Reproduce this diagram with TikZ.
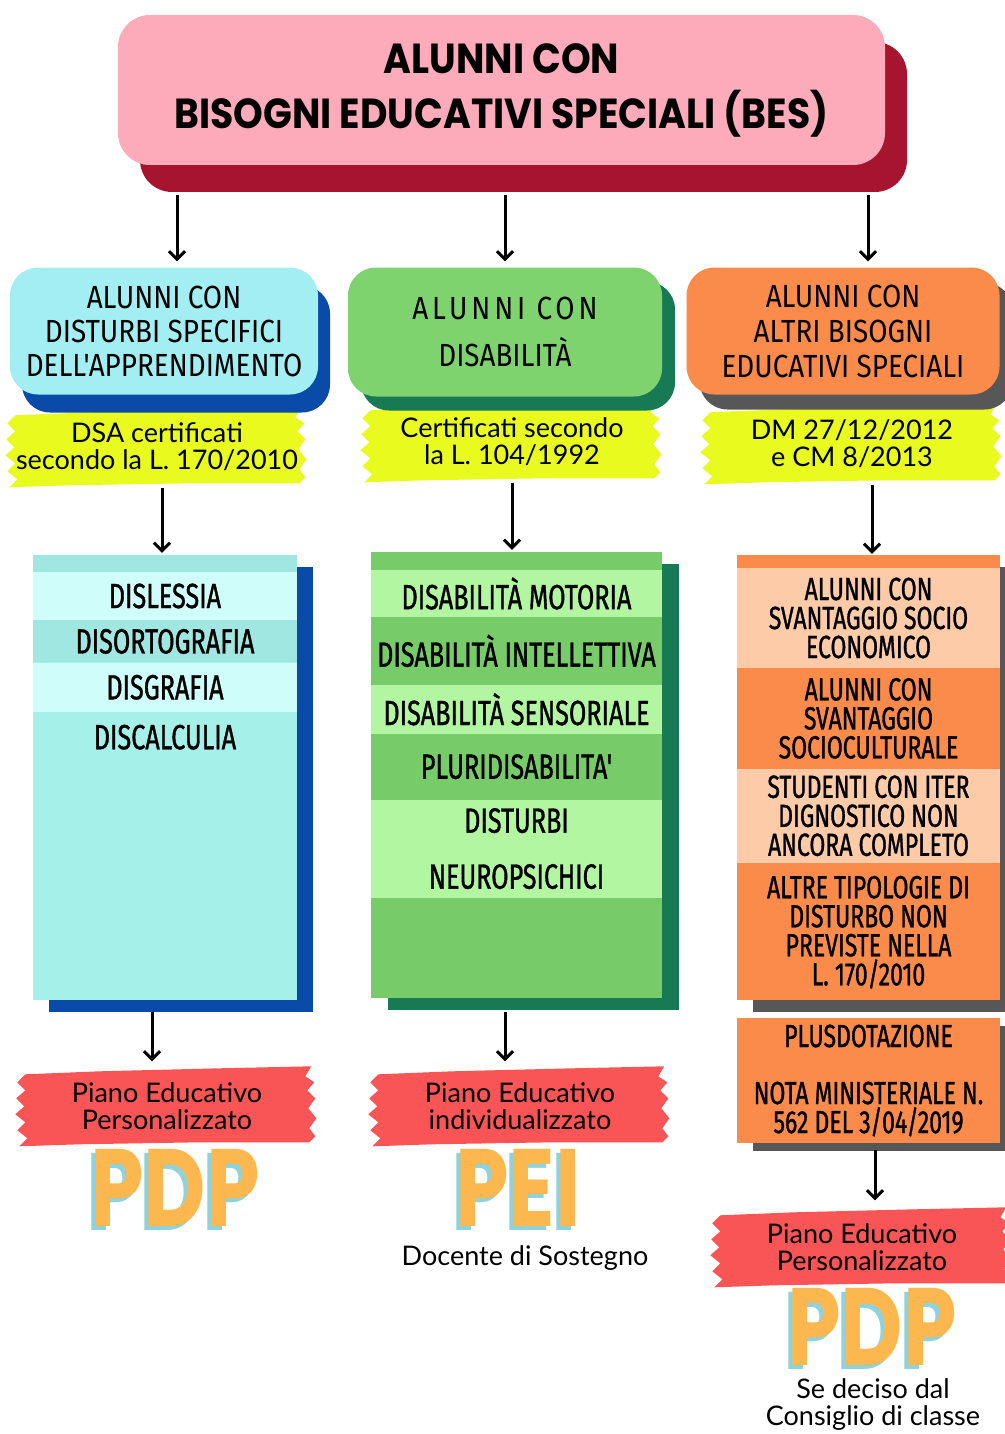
\documentclass[tikz,border=0pt]{standalone}
\usepackage{fontspec}
\setmainfont{Lato}
\newfontfamily\titlefont[FakeStretch=0.9]{Poppins}
\newfontfamily\bigfont[FakeStretch=0.78]{Poppins}
\newfontfamily\capsfont[FakeStretch=0.87]{Fira Sans}
\newfontfamily\listfont[FakeStretch=0.72,FakeBold=1]{Fira Sans}
\usetikzlibrary{positioning,shadows,backgrounds,calc,arrows.meta}

\definecolor{bespink}{HTML}{FDAABA}
\definecolor{bescrimson}{HTML}{A7142F}
\definecolor{dsacyan}{HTML}{A2EEF2}
\definecolor{dsablue}{HTML}{0A4AA8}
\definecolor{dsalist}{HTML}{A6F0EA}
\definecolor{dsalight}{HTML}{CFFEFA}
\definecolor{dsatop}{HTML}{A0E6E1}
\definecolor{disgreen}{HTML}{7ED36E}
\definecolor{disdark}{HTML}{177A55}
\definecolor{dislist}{HTML}{77CC69}
\definecolor{dislight}{HTML}{B3F6A2}
\definecolor{altriorange}{HTML}{FB8B4B}
\definecolor{altrigray}{HTML}{575757}
\definecolor{altripeach}{HTML}{FDCBA8}
\definecolor{lawyellow}{HTML}{E9FA1E}
\definecolor{pianored}{HTML}{F95456}
\definecolor{pdporange}{HTML}{FDB74F}
\definecolor{pdpblue}{HTML}{8ED2DE}

% big word with its light blue shadow
\newcommand\bigword[1]{\makebox[0pt][l]{\hspace*{-4pt}\raisebox{-4pt}{\color{pdpblue}#1}}#1}

\tikzset{
  brushpic/.pic={
    \fill[pic actions] (6,6) -- (80,3) -- (200,0) -- (292,-2) -- (286,8) -- (295,14)
      -- (288,22) -- (296,30) -- (289,40) -- (297,50) -- (290,60) -- (296,68)
      -- (290,74) -- (180,74) -- (60,76) -- (0,78) -- (8,70) -- (-2,62) -- (6,54)
      -- (-4,46) -- (5,38) -- (-3,30) -- (6,22) -- (-2,14) -- cycle;
  }
}

\begin{document}
\begin{tikzpicture}[x=1pt, y=-1pt,
    backshadow/.style n args={3}{drop shadow={shadow xshift=#1, shadow yshift=#2, fill=#3, opacity=1}},
    titlebox/.style={rectangle, rounded corners=32pt, fill=bespink, minimum width=767pt, minimum height=150pt,
      inner sep=0pt, align=center, font=\titlefont\bfseries\fontsize{42}{55}\selectfont},
    headbox/.style={rectangle, rounded corners=28pt, inner sep=0pt, align=center,
      font=\capsfont\fontsize{32}{34}\selectfont},
    lawlabel/.style={minimum width=295pt, minimum height=75pt, inner sep=0pt, align=center,
      font=\fontsize{27}{27}\selectfont},
    listbox/.style={rectangle, inner sep=0pt},
    listrow/.style={rectangle, inner sep=0pt, align=center, font=\listfont\fontsize{35}{29}\selectfont},
    altrirow/.style={listrow, minimum width=263pt, font=\listfont\fontsize{32}{29}\selectfont},
    bigletters/.style={inner sep=0pt, font=\bigfont\bfseries\fontsize{110}{110}\selectfont, text=pdporange},
    hand/.style={align=center, inner sep=0pt, font=\fontsize{27}{27}\selectfont},
    arr/.style={-{Straight Barb[length=8pt,width=16pt]}, line width=3pt}]
\useasboundingbox (0,0) rectangle (1004,1434);

% title
\node[titlebox, backshadow={22pt}{-27pt}{bescrimson}] (title) at (501.5,90)
  {ALUNNI CON\\BISOGNI EDUCATIVI SPECIALI (BES)};

% three groups
\node[headbox, fill=dsacyan, minimum width=308pt, minimum height=127pt,
  backshadow={12pt}{-18pt}{dsablue}] (dsa) at (164,331)
  {ALUNNI CON\\DISTURBI SPECIFICI\\DELL'APPRENDIMENTO};
\node[headbox, fill=disgreen, minimum width=314pt, minimum height=129pt,
  backshadow={13pt}{-14pt}{disdark}] (dis) at (505,332)
  {\addfontfeatures{LetterSpace=12}ALUNNI CON\\[13pt]DISABILITÀ};
\node[headbox, fill=altriorange, minimum width=313pt, minimum height=127pt,
  backshadow={13pt}{-15pt}{altrigray}, font=\capsfont\fontsize{32}{35}\selectfont] (altri) at (843,331)
  {ALUNNI CON\\ALTRI BISOGNI\\EDUCATIVI SPECIALI};

% laws
\node[lawlabel] (dsalaw) at (157,447) {DSA certificati\\secondo la L. 170/2010};
\node[lawlabel] (dislaw) at (512,442) {Certificati secondo\\la L. 104/1992};
\node[lawlabel] (altrilaw) at (852,444) {DM 27/12/2012\\e CM 8/2013};

% DSA list
\node[listbox, fill=dsatop, minimum width=264pt, minimum height=445pt,
  backshadow={16pt}{-12pt}{dsablue}] (dsalistbox) at (165,777.5) {};
\fill[dsalist] ([yshift=-17pt]dsalistbox.north west) rectangle (dsalistbox.south east);
\node[listrow, fill=dsalight, minimum width=264pt, minimum height=48pt, below=17pt of dsalistbox.north] (dislessia) {DISLESSIA};
\node[listrow, fill=dsatop, minimum width=264pt, minimum height=42pt, below=0pt of dislessia] (disorto) {DISORTOGRAFIA};
\node[listrow, fill=dsalight, minimum width=264pt, minimum height=49pt, below=0pt of disorto] (disgrafia) {DISGRAFIA};
\node[listrow, minimum width=264pt, minimum height=50pt, below=0pt of disgrafia] (discalculia) {DISCALCULIA};

% disability list
\node[listbox, fill=dislist, minimum width=291pt, minimum height=446pt,
  backshadow={17pt}{-12pt}{disdark}] (dislistbox) at (516.5,775) {};
\node[listrow, fill=dislight, minimum width=291pt, minimum height=47pt, below=18pt of dislistbox.north] (motoria) {DISABILITÀ MOTORIA};
\node[listrow, minimum width=291pt, minimum height=67pt, below=0pt of motoria] (intellettiva) {DISABILITÀ INTELLETTIVA};
\node[listrow, fill=dislight, minimum width=291pt, minimum height=49pt, below=0pt of intellettiva] (sensoriale) {DISABILITÀ SENSORIALE};
\node[listrow, minimum width=291pt, minimum height=65pt, below=0pt of sensoriale] (pluri) {PLURIDISABILITA'};
\node[listrow, fill=dislight, minimum width=291pt, minimum height=98pt, below=0pt of pluri] (neuro) {DISTURBI\\[27pt]NEUROPSICHICI};

% other needs list
\node[listbox, fill=altriorange, minimum width=263pt, minimum height=445pt,
  backshadow={16pt}{-12pt}{altrigray}] (altrilistbox) at (868.5,777.5) {};
\node[altrirow, fill=altripeach, minimum height=100pt, below=13pt of altrilistbox.north] (socioeco) {ALUNNI CON\\SVANTAGGIO SOCIO\\ECONOMICO};
\node[altrirow, minimum height=100pt, below=0pt of socioeco] (sociocult) {ALUNNI CON\\SVANTAGGIO\\SOCIOCULTURALE};
\node[altrirow, fill=altripeach, minimum height=94pt, below=0pt of sociocult] (iter) {STUDENTI CON ITER\\DIGNOSTICO NON\\ANCORA COMPLETO};
\node[altrirow, minimum height=138pt, below=0pt of iter] (tipologie) {ALTRE TIPOLOGIE DI\\DISTURBO NON\\PREVISTE NELLA\\L. 170/2010};
\node[altrirow, fill=altriorange, minimum height=125pt, backshadow={16pt}{-8pt}{altrigray}] (plus) at (868.5,1080.5)
  {PLUSDOTAZIONE\\[28pt]NOTA MINISTERIALE N.\\562 DEL 3/04/2019};

% plans
\node[lawlabel] (dsapiano) at (167,1106) {Piano Educativo\\Personalizzato};
\node[lawlabel] (dispiano) at (520,1106) {Piano Educativo\\individualizzato};
\node[lawlabel] (altripiano) at (862,1247) {Piano Educativo\\Personalizzato};

\begin{scope}[on background layer]
  \pic[fill=lawyellow] at (dsalaw.north west) {brushpic};
  \pic[fill=lawyellow] at (dislaw.north west) {brushpic};
  \pic[fill=lawyellow] at (altrilaw.north west) {brushpic};
  \pic[fill=pianored] at (dsapiano.north west) {brushpic};
  \pic[fill=pianored] at (dispiano.north west) {brushpic};
  \pic[fill=pianored] at (altripiano.north west) {brushpic};
\end{scope}

\node[bigletters] (dsapdp) at (175,1190) {\bigword{PDP}};
\node[bigletters] (dispei) at (518,1190) {\bigword{PEI}};
\node[bigletters] (altripdp) at (872,1329) {\bigword{PDP}};

\node[hand, anchor=base] (sostegno) at (525,1265) {Docente di Sostegno};
\node[hand] (consiglio) at (873,1405) {Se deciso dal\\Consiglio di classe};

% arrows
\draw[arr, shorten <=30pt, shorten >=6pt] ([xshift=13pt]title.south -| dsa.north) -- ([xshift=13pt]dsa.north);
\draw[arr, shorten <=30pt, shorten >=6pt] (title.south -| dis.north) -- (dis.north);
\draw[arr, shorten <=30pt, shorten >=6pt] ([xshift=25pt]title.south -| altri.north) -- ([xshift=25pt]altri.north);
\draw[arr, shorten <=3pt, shorten >=2pt] ([xshift=5pt]dsalaw.south) -- ([xshift=5pt]dsalaw.south |- dsalistbox.north);
\draw[arr, shorten <=3pt, shorten >=2pt] (dislaw.south) -- (dislaw.south |- dislistbox.north);
\draw[arr, shorten <=3pt, shorten >=1pt] ([xshift=20pt]altrilaw.south) -- ([xshift=20pt]altrilaw.south |- altrilistbox.north);
\draw[arr, shorten <=12pt, shorten >=7pt] ([xshift=-13pt]dsalistbox.south) -- ([xshift=-13pt]dsalistbox.south |- dsapiano.north);
\draw[arr, shorten <=14pt, shorten >=7pt] ([xshift=-11.5pt]dislistbox.south) -- ([xshift=-11.5pt]dislistbox.south |- dispiano.north);
\draw[arr, shorten <=7pt, shorten >=9pt] ([xshift=6.5pt]plus.south) -- ([xshift=6.5pt]plus.south |- altripiano.north);
\end{tikzpicture}
\end{document}
